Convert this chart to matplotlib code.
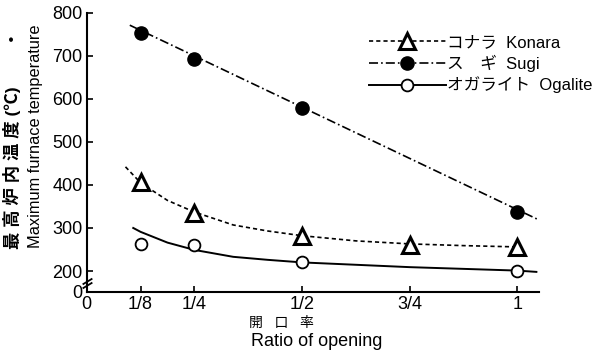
import matplotlib
matplotlib.use("Agg")
import matplotlib.pyplot as plt
from matplotlib.lines import Line2D

plt.rcParams['font.family'] = ['Liberation Sans', 'Noto Sans CJK JP', 'DejaVu Sans']
plt.rcParams['lines.scale_dashes'] = False

# measured points (ratio of opening vs max furnace temperature, degC)
konara_x = [1/8, 1/4, 1/2, 3/4, 1]
konara_y = [407, 335, 281, 260, 256]
sugi_x = [1/8, 1/4, 1/2, 1]
sugi_y = [752, 692, 579, 337]
ogalite_x = [1/8, 1/4, 1/2, 1]
ogalite_y = [263, 261, 221, 200]

# fitted curves
konara_fit_x = [0.09, 0.125, 0.1875, 0.25, 0.34, 0.42, 0.5, 0.625, 0.75, 0.875, 1.0]
konara_fit_y = [442, 405, 364, 337, 307, 293, 282, 270, 263, 259, 256]
sugi_fit_x = [0.10, 1.045]
sugi_fit_y = [771, 321]
ogalite_fit_x = [0.108, 0.125, 0.1875, 0.25, 0.34, 0.42, 0.5, 0.75, 1.0, 1.044]
ogalite_fit_y = [300, 291, 266, 249, 233, 226, 220, 209, 201, 198]

x_ticks = [0, 1/8, 1/4, 1/2, 3/4, 1]
x_labels = ['0', '1/8', '1/4', '1/2', '3/4', '1']
y_bottom = 152   # axis break: the "0" sits at the bottom of the axis
y_ticks = [y_bottom, 200, 300, 400, 500, 600, 700, 800]
y_labels = ['0', '200', '300', '400', '500', '600', '700', '800']

legend_labels = ['コナラ  Konara', 'ス　ギ  Sugi', 'オガライト  Ogalite']

konara_style = dict(color='black', lw=1.2, dashes=(3, 2.2))
sugi_style = dict(color='black', lw=1.2, dashes=(6.5, 2.2, 1.2, 2.2))
ogalite_style = dict(color='black', lw=1.4)

fig = plt.figure(figsize=(6.01, 3.59), dpi=100)
ax = fig.add_axes([0.1443, 0.1875, 0.8968 - 0.1443, 0.9646 - 0.1875])

ax.plot(konara_fit_x, konara_fit_y, **konara_style)
ax.plot(sugi_fit_x, sugi_fit_y, **sugi_style)
ax.plot(ogalite_fit_x, ogalite_fit_y, **ogalite_style)

ax.plot(konara_x, konara_y, ls='none', marker='^', ms=11, mfc='white',
        mec='black', mew=2.2, zorder=5)
ax.plot(sugi_x, sugi_y, ls='none', marker='o', ms=9.5, mfc='black',
        mec='black', zorder=5)
ax.plot(ogalite_x, ogalite_y, ls='none', marker='o', ms=8.5, mfc='white',
        mec='black', mew=1.3, zorder=5)

ax.set_xlim(0, 1.05)
ax.set_ylim(y_bottom, 800)
ax.set_xticks(x_ticks)
ax.set_xticklabels(x_labels)
ax.set_yticks(y_ticks)
ax.set_yticklabels(y_labels)
ax.tick_params(direction='in', length=4.5, width=1.2, labelsize=13, pad=3)
ax.yaxis.get_major_ticks()[0].tick1line.set_visible(False)
ax.xaxis.get_major_ticks()[0].tick1line.set_visible(False)

for side in ['top', 'right']:
    ax.spines[side].set_visible(False)
for side in ['left', 'bottom']:
    ax.spines[side].set_linewidth(1.5)

# break marks on the y axis
for yb in [168, 176]:
    ax.plot([0], [yb], marker=[(-1, -0.6), (1, 0.6)], ms=7, mew=1.3,
            color='black', clip_on=False, zorder=6)

# axis labels
fig.text(12 / 601, 1 - 249 / 359, '最 高 炉 内 温 度 (℃)        ・', rotation=90,
         ha='center', va='bottom', fontsize=12.5, fontweight='bold')
fig.text(36 / 601, 1 - 248 / 359, 'Maximum furnace temperature', rotation=90,
         ha='center', va='bottom', fontsize=11.8)
fig.text(249 / 601, 1 - 323 / 359, '開   口   率', ha='left', va='center',
         fontsize=10)
fig.text(251 / 601, 1 - 342 / 359, 'Ratio of opening', ha='left', va='center',
         fontsize=13)

handles = [
    Line2D([], [], marker='^', ms=11, mfc='white', mec='black', mew=2.2, **konara_style),
    Line2D([], [], marker='o', ms=9.5, mfc='black', mec='black', **sugi_style),
    Line2D([], [], marker='o', ms=8.5, mfc='white', mec='black', mew=1.3, **ogalite_style),
]
fig.legend(handles, legend_labels, loc='upper left',
           bbox_to_anchor=(369 / 601, 1 - 35 / 359), frameon=False,
           fontsize=12, handlelength=4.6, handletextpad=0.1,
           labelspacing=0.28, borderpad=0, borderaxespad=0)

plt.savefig('out.png', dpi=100)
